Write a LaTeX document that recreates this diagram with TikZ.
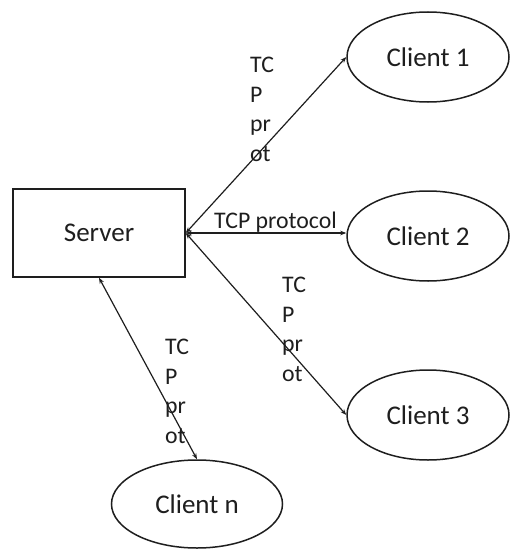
\documentclass[tikz,border=0pt]{standalone}
\usepackage{fontspec}
\setmainfont{Carlito}
\usetikzlibrary{arrows.meta,shapes.geometric}
\definecolor{ink}{HTML}{1E1E1E}
\begin{document}
\begin{tikzpicture}[x=1pt,y=-1pt,
  box/.style={draw=ink,line width=1.5pt,minimum width=172pt,minimum height=88pt,inner sep=0pt,font=\fontsize{27}{31}\selectfont,text=ink},
  client/.style={draw=ink,line width=1.5pt,ellipse,minimum width=162pt,minimum height=90pt,inner sep=0pt,font=\fontsize{27}{31}\selectfont,text=ink},
  link/.style={draw=ink,line width=1.2pt,{Stealth[length=6pt,width=4.5pt]}-{Stealth[length=6pt,width=4.5pt]}},
  lbl/.style={anchor=north west,inner sep=0pt,align=left,text=ink,font=\fontsize{23.8}{29.5}\selectfont}]
\useasboundingbox (0,0) rectangle (510,551);

% server and clients
\node[box] (srv) at (99,233) {Server};
\node[client] (c1) at (428,57) {Client 1};
\node[client] (c2) at (428,236) {Client 2};
\node[client] (c3) at (428,415) {Client 3};
\node[client,minimum width=171pt,minimum height=88pt] (cn) at (197,504) {Client n};

% connections
\draw[link] (srv.east) -- (c1.west);
\draw[link] (srv.east) -- (srv.east -| c2.west);
\draw[link] (srv.east) -- (c3.west);
\draw[link] (srv.south) -- (cn.north);

% protocol labels
\node[lbl] (l1) at (250,57) {TC\\P\\pr\\ot};
\node[lbl,anchor=base west] (l2) at (214,228) {TCP protocol};
\node[lbl] (l3) at (282,277) {TC\\P\\pr\\ot};
\node[lbl] (l4) at (165,339) {TC\\P\\pr\\ot};
\end{tikzpicture}
\end{document}
